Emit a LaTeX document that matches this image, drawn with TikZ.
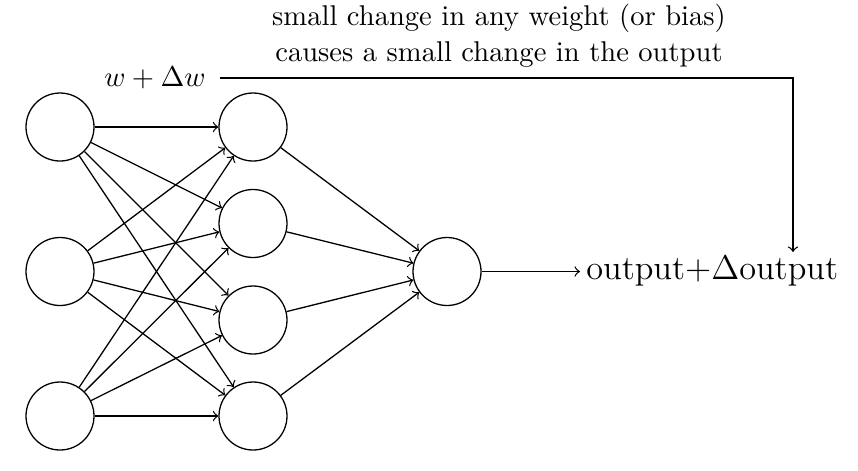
\documentclass[tikz,border=0pt]{standalone}
\usetikzlibrary{arrows}
\begin{document}
\begin{tikzpicture}[x=0.35pt,y=-0.35pt,
  neuron/.style={circle,draw,line width=0.45pt,minimum size=23.8pt,inner sep=0pt},
  conn/.style={->,line width=0.45pt},
  every node/.style={font=\fontsize{10}{12}\selectfont}]
\useasboundingbox (0,0) rectangle (858,470);
\node[neuron] (i1) at (60,127) {};
\node[neuron] (i2) at (60,271.5) {};
\node[neuron] (i3) at (60,416) {};
\node[neuron] (h1) at (253,127) {};
\node[neuron] (h2) at (253,223.5) {};
\node[neuron] (h3) at (253,320) {};
\node[neuron] (h4) at (253,416) {};
\node[neuron] (o) at (447,271.5) {};
\foreach \i in {1,2,3}{
  \foreach \h in {1,2,3,4}{
    \draw[conn] (i\i) -- (h\h);
  }
}
\foreach \h in {1,2,3,4}{
  \draw[conn] (h\h) -- (o);
}
\node[anchor=west,inner sep=2pt,font=\fontsize{12}{14}\selectfont] (out) at (580,271.5) {output+$\Delta$output};
\draw[conn] (o) -- (out);
\node[inner sep=5pt] (w) at (155,78) {$w+\Delta w$};
\coordinate (corner) at (793,78);
\coordinate (tip) at (793,252);
\draw[conn] (w.east) -- (corner) -- (tip);
\node[align=center,font=\fontsize{10}{12.6}\selectfont] (note) at (499,36) {small change in any weight (or bias)\\causes a small change in the output};
\end{tikzpicture}
\end{document}
